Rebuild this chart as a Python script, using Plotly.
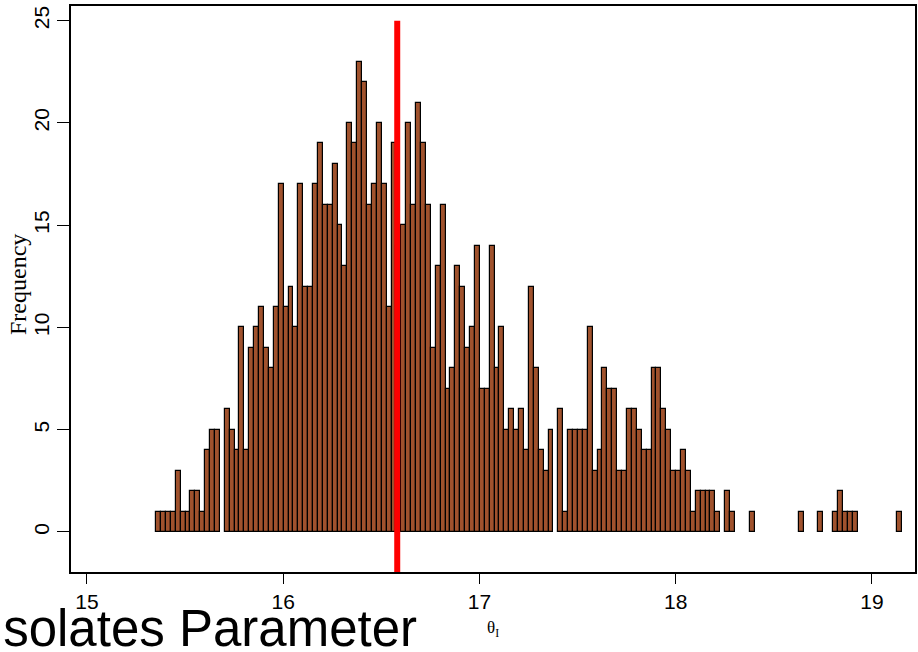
import plotly.graph_objects as go

# ---------------- data ----------------
bin_start = 15.352
bin_width = 0.025
frequency = [
    1, 1, 1, 1, 3, 1, 1, 2, 2, 1, 4, 5, 5, 0, 6, 5, 4, 10, 4, 9,
    10, 11, 9, 8, 11, 17, 11, 12, 10, 17, 12, 12, 17, 19, 16, 16, 18, 15, 13, 20,
    19, 23, 22, 16, 17, 20, 17, 11, 19, 14, 15, 20, 16, 21, 19, 16, 9, 13, 16, 7,
    8, 13, 12, 9, 10, 14, 7, 7, 14, 8, 10, 5, 6, 5, 6, 4, 12, 8, 4, 3,
    5, 0, 6, 1, 5, 5, 5, 5, 10, 3, 4, 8, 7, 7, 3, 3, 6, 6, 5, 4,
    4, 8, 8, 6, 5, 3, 3, 4, 3, 1, 2, 2, 2, 2, 1, 0, 2, 1, 0, 0,
    0, 1, 0, 0, 0, 0, 0, 0, 0, 0, 0, 1, 0, 0, 0, 1, 0, 0, 1, 2,
    1, 1, 1, 0, 0, 0, 0, 0, 0, 0, 0, 1,
]
reference_value = 16.581
reference_top = 25

x_ticks = [15, 16, 17, 18, 19]
y_ticks = [0, 5, 10, 15, 20, 25]
x_range = [14.9185, 19.2196]
y_range = [-1.957, 25.72]

x_title = "θ<sub>I</sub>"
y_title = "Frequency"
slide_title = "Isolates Parameter"

# ---------------- figure ----------------
centers = [bin_start + (i + 0.5) * bin_width for i in range(len(frequency))]
xs = [c for c, f in zip(centers, frequency) if f > 0]
ys = [f for f in frequency if f > 0]

fig = go.Figure()
fig.add_trace(go.Bar(
    x=xs, y=ys, width=bin_width,
    marker=dict(color="#A0522D", line=dict(color="black", width=1.2)),
    hoverinfo="x+y", showlegend=False,
))
fig.add_trace(go.Scatter(
    x=[reference_value, reference_value], y=[y_range[0], reference_top],
    mode="lines", line=dict(color="#FF0000", width=6),
    showlegend=False, hoverinfo="skip", cliponaxis=True,
))

L, R, T, B = 71, 3, 6, 80
W, H = 918, 652

fig.update_layout(
    width=W, height=H,
    margin=dict(l=L, r=R, t=T, b=B, autoexpand=False),
    paper_bgcolor="white", plot_bgcolor="white",
    bargap=0,
    font=dict(family="Liberation Sans, Arial, sans-serif", color="black"),
)
fig.update_xaxes(
    range=x_range, tickvals=x_ticks, ticktext=[str(v) for v in x_ticks],
    ticks="outside", ticklen=10, tickwidth=1.3, tickcolor="black",
    showline=True, linecolor="black", linewidth=1.5, mirror=True,
    showgrid=False, zeroline=False, automargin=False,
    tickfont=dict(size=21, family="Liberation Sans, Arial, sans-serif"),
)
fig.update_yaxes(
    range=y_range, tickvals=y_ticks, ticktext=[str(v) for v in y_ticks],
    ticks="outside", ticklen=12, tickwidth=1.3, tickcolor="black",
    showline=True, linecolor="black", linewidth=1.5, mirror=True,
    showgrid=False, zeroline=False, tickangle=-90, automargin=False,
    tickfont=dict(size=21, family="Liberation Sans, Arial, sans-serif"),
)

pw = W - L - R
ph = H - T - B
def px_x(p):
    return (p - L) / pw
def px_y(p):
    return (H - B - p) / ph

fig.add_annotation(
    text=y_title, xref="paper", yref="paper", x=px_x(18), y=px_y(285),
    textangle=-90, showarrow=False, xanchor="center", yanchor="middle",
    font=dict(family="Liberation Serif, Times New Roman, serif", size=24),
)
fig.add_annotation(
    text=x_title, xref="paper", yref="paper", x=0.5, y=px_y(629),
    showarrow=False, xanchor="center", yanchor="middle",
    font=dict(family="Liberation Serif, Times New Roman, serif", size=17),
)
fig.add_annotation(
    text=slide_title, xref="paper", yref="paper", x=px_x(-13), y=px_y(628),
    showarrow=False, xanchor="left", yanchor="middle",
    font=dict(family="Liberation Sans, Arial, sans-serif", size=51, color="black"),
)

fig.write_html(
    "out.html",
    config={"displayModeBar": False},
    post_script="document.body.style.margin='0px';document.body.style.overflow='hidden';",
)
